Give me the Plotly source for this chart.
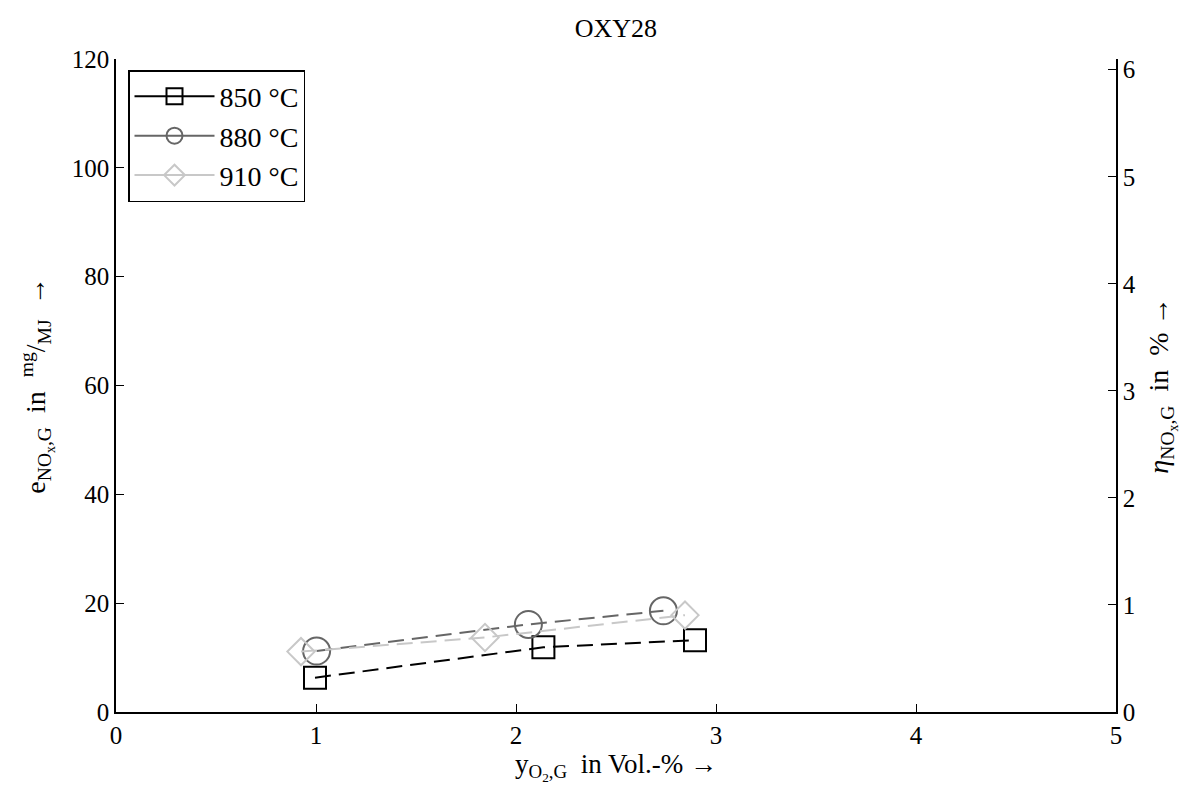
import plotly.graph_objects as go

series_names = ["850 °C", "880 °C", "910 °C"]
x_850 = [0.995, 2.137, 2.895]
y_850 = [6.3, 11.9, 13.2]
x_880 = [1.003, 2.062, 2.737]
y_880 = [11.2, 16.1, 18.6]
x_910 = [0.925, 1.845, 2.845]
y_910 = [11.1, 13.7, 17.8]

colors = ["#000000", "#666666", "#c8c8c8"]
symbols = ["square-open", "circle-open", "diamond-open"]
sizes = [22, 27, 21]

FONT = "Liberation Serif, DejaVu Serif, serif"

fig = go.Figure()
for name, xs, ys, c, s, sz in zip(series_names, [x_850, x_880, x_910], [y_850, y_880, y_910], colors, symbols, sizes):
    fig.add_trace(go.Scatter(
        x=xs, y=ys, name=name, mode="lines+markers", showlegend=False,
        line=dict(color=c, width=2, dash="16px,8px"),
        marker=dict(symbol=s, size=sz, color=c, line=dict(color=c, width=2)),
    ))
# legend entries (solid lines, as in the reference legend)
for name, c, s, sz in zip(series_names, colors, symbols, sizes):
    fig.add_trace(go.Scatter(
        x=[None], y=[None], name=name, mode="lines+markers",
        line=dict(color=c, width=2),
        marker=dict(symbol=s, size=sz, color=c, line=dict(color=c, width=2)),
    ))

# invisible trace on the right axis
fig.add_trace(go.Scatter(x=[None], y=[None], yaxis="y2", showlegend=False, hoverinfo="skip"))

fig.update_layout(
    width=1192, height=794,
    margin=dict(l=116, r=76, t=59, b=82),
    paper_bgcolor="white", plot_bgcolor="white",
    font=dict(family=FONT, size=25, color="black"),
    title=dict(text="OXY28", x=0.5167, xanchor="center", y=0.965, yanchor="middle",
               font=dict(family=FONT, size=26, color="black")),
    xaxis=dict(range=[0, 5], tickvals=[0, 1, 2, 3, 4, 5], showgrid=False, zeroline=False,
               showline=True, linecolor="black", linewidth=1.5, ticks="inside", ticklen=8,
               tickcolor="black", mirror=False, tickfont=dict(family=FONT, size=25),
               title=dict(text="y<sub>O<sub>2</sub>,G</sub>  in Vol.-% →", standoff=6,
                          font=dict(family=FONT, size=27))),
    yaxis=dict(range=[0, 120], tickvals=[0, 20, 40, 60, 80, 100, 120], showgrid=False, zeroline=False,
               showline=True, linecolor="black", linewidth=1.5, ticks="inside", ticklen=8,
               tickcolor="black", tickfont=dict(family=FONT, size=25),
               title=dict(text="e<sub>NO<sub>x</sub>,G</sub>  in  <sup>mg</sup>/<sub>MJ</sub>  →", standoff=18,
                          font=dict(family=FONT, size=28))),
    yaxis2=dict(range=[0, 6.1], tickvals=[0, 1, 2, 3, 4, 5, 6], overlaying="y", side="right",
                showgrid=False, zeroline=False, showline=True, linecolor="black", linewidth=1.5,
                ticks="inside", ticklen=8, tickcolor="black", tickfont=dict(family=FONT, size=25),
                title=dict(text="<i>η</i><sub>NO<sub>x</sub>,G</sub>  in  % →", standoff=14,
                           font=dict(family=FONT, size=28))),
    legend=dict(x=0.012, y=0.983, xanchor="left", yanchor="top",
                bgcolor="white", bordercolor="black", borderwidth=1.5,
                font=dict(family=FONT, size=28), itemwidth=80, tracegroupgap=0),
)

fig.write_html("out.html")
